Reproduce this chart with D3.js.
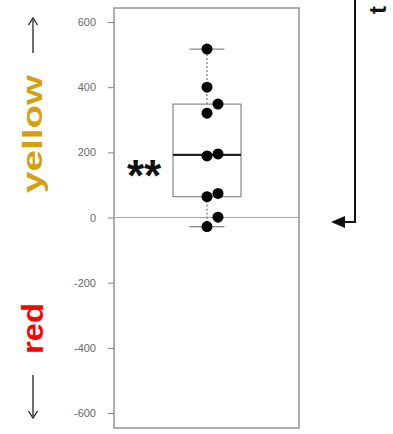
<!DOCTYPE html>
<html><head><meta charset="utf-8">
<script src="https://cdn.jsdelivr.net/npm/d3@7"></script>
<style>body{margin:0;background:#fff}svg{display:block}</style>
</head><body>
<svg id="c" width="393" height="434"></svg>
<script>
const values = [517, 400, 348, 320, 195, 189, 74, 64, 1, -28];
const tickValues = [-600, -400, -200, 0, 200, 400, 600];
const tickLabels = ["-600", "-400", "-200", "0", "200", "400", "600"];
const upLabel = "yellow";
const downLabel = "red";
const signif = "**";

const svg = d3.select("#c");
const font = "'Liberation Sans', Arial, sans-serif";
const y = d3.scaleLinear().domain([-600, 600]).range([413, 22]);
const box = {x0: 114, x1: 299, y0: 8, y1: 428};
const cx = 207;

// frame
svg.append("rect").attr("x", box.x0).attr("y", box.y0)
  .attr("width", box.x1 - box.x0).attr("height", box.y1 - box.y0)
  .attr("fill", "none").attr("stroke", "#999").attr("stroke-width", 1.6);

// zero line
svg.append("line").attr("x1", box.x0).attr("x2", box.x1)
  .attr("y1", y(0)).attr("y2", y(0)).attr("stroke", "#aaa").attr("stroke-width", 1);

// axis
const ax = svg.append("g").attr("transform", `translate(${box.x0},0)`)
  .call(d3.axisLeft(y).tickValues(tickValues).tickSize(6).tickPadding(12)
    .tickFormat((d, i) => tickLabels[i]));
ax.select(".domain").remove();
ax.selectAll(".tick line").attr("stroke", "#888");
ax.selectAll(".tick text").attr("fill", "#6a6a6a").attr("font-family", font).attr("font-size", 11);

// box stats (Tukey hinges)
const sorted = values.slice().sort((a, b) => a - b);
const n = sorted.length;
const med = d3.median(sorted);
const lower = sorted.slice(0, Math.ceil(n / 2));
const upper = sorted.slice(Math.floor(n / 2));
const q1 = d3.median(lower), q3 = d3.median(upper);
const lo = d3.min(sorted), hi = d3.max(sorted);
const bw = 68, cw = 35;

// whiskers
const wk = svg.append("g").attr("stroke", "#555").attr("stroke-width", 1);
wk.append("line").attr("x1", cx).attr("x2", cx).attr("y1", y(q3)).attr("y2", y(hi)).attr("stroke-dasharray", "2,2");
wk.append("line").attr("x1", cx).attr("x2", cx).attr("y1", y(q1)).attr("y2", y(lo)).attr("stroke-dasharray", "2,2");
svg.append("line").attr("x1", cx - cw / 2).attr("x2", cx + cw / 2).attr("y1", y(hi)).attr("y2", y(hi)).attr("stroke", "#888").attr("stroke-width", 1.2);
svg.append("line").attr("x1", cx - cw / 2).attr("x2", cx + cw / 2).attr("y1", y(lo)).attr("y2", y(lo)).attr("stroke", "#888").attr("stroke-width", 1.2);

// box
svg.append("rect").attr("x", cx - bw / 2).attr("y", y(q3)).attr("width", bw).attr("height", y(q1) - y(q3))
  .attr("fill", "none").attr("stroke", "#888").attr("stroke-width", 1.2);
svg.append("line").attr("x1", cx - bw / 2).attr("x2", cx + bw / 2).attr("y1", y(med)).attr("y2", y(med))
  .attr("stroke", "#222").attr("stroke-width", 2.2);

// points (simple beeswarm: shift right when colliding)
const placed = [];
sorted.forEach(v => {
  const py = y(v);
  const hit = placed.some(p => p.dx === 0 && Math.abs(p.py - py) < 11);
  placed.push({v, py, dx: hit ? 11 : 0});
});
svg.append("g").selectAll("circle").data(placed).join("circle")
  .attr("cx", d => cx + d.dx).attr("cy", d => d.py).attr("r", 5.5).attr("fill", "#000");

// significance
svg.append("text").attr("x", 144).attr("y", 191).attr("text-anchor", "middle")
  .attr("font-family", font).attr("font-weight", "bold").attr("font-size", 44).attr("fill", "#111").text(signif);

// left labels
svg.append("text").attr("transform", "translate(42,193) rotate(-90)")
  .attr("font-family", font).attr("font-weight", "bold").attr("font-size", 28)
  .attr("fill", "#D4A010").attr("textLength", 118).attr("lengthAdjust", "spacingAndGlyphs").text(upLabel);
svg.append("text").attr("transform", "translate(43,354) rotate(-90)")
  .attr("font-family", font).attr("font-weight", "bold").attr("font-size", 29)
  .attr("fill", "#ff0000").attr("textLength", 51).attr("lengthAdjust", "spacingAndGlyphs").text(downLabel);

// small arrows
const arr = svg.append("g").attr("stroke", "#222").attr("stroke-width", 1.3).attr("fill", "none");
arr.append("line").attr("x1", 33).attr("x2", 33).attr("y1", 53).attr("y2", 20);
arr.append("path").attr("d", "M28.5,25 L33,18 L37.5,25");
arr.append("line").attr("x1", 33).attr("x2", 33).attr("y1", 375).attr("y2", 416);
arr.append("path").attr("d", "M28.5,411 L33,418 L37.5,411");

// right bracket arrow
svg.append("path").attr("d", "M355,0 V222 H343").attr("fill", "none").attr("stroke", "#111").attr("stroke-width", 2);
svg.append("path").attr("d", "M331,222 L345,216 L345,228 Z").attr("fill", "#111");

// small letter at top right
svg.append("text").attr("transform", "translate(386,14) rotate(-90)")
  .attr("font-family", font).attr("font-weight", "bold").attr("font-size", 24).attr("fill", "#111").text("t");
</script>
</body></html>
